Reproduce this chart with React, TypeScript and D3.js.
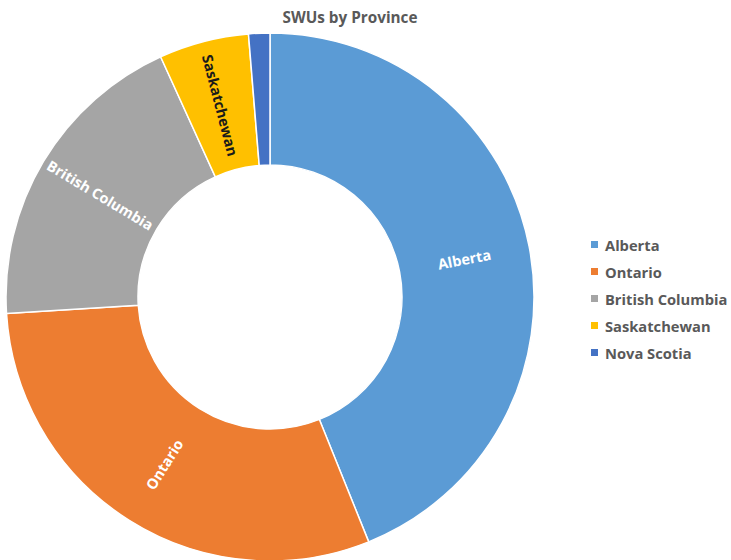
import React from "react";
import * as d3 from "d3";

const categories = ["Alberta", "Ontario", "British Columbia", "Saskatchewan", "Nova Scotia"];
const values = [43.9, 30.1, 19.2, 5.5, 1.3];
const colors = ["#5B9BD5", "#ED7D31", "#A5A5A5", "#FFC000", "#4472C4"];
const labelColors = ["#ffffff", "#ffffff", "#ffffff", "#1a1a1a", "#ffffff"];
const showLabel = [true, true, true, true, false];
const title = "SWUs by Province";

const W = 731;
const H = 560;
const FONT = "'Open Sans', Lato, sans-serif";

export default function App() {
  const cx = 270;
  const cy = 297;
  const outerR = 264;
  const innerR = 132;
  const data = categories.map((c, i) => ({ name: c, value: values[i], i }));
  const pie = d3.pie<any>().sort(null).value((d: any) => d.value).startAngle(0).endAngle(2 * Math.PI);
  const arcs = pie(data);
  const arc = d3.arc<any>().innerRadius(innerR).outerRadius(outerR);
  const midR = (innerR + outerR) / 2;

  return (
    <svg width={W} height={H} style={{ position: "absolute", left: 0, top: 0, background: "#fff" }} fontFamily={FONT}>
      <rect x={0} y={0} width={W} height={H} fill="#fff" />
      <text x={350} y={23} textAnchor="middle" fontSize={15.3} fontWeight="bold" fill="#595959">{title}</text>
      <g transform={`translate(${cx},${cy})`}>
        {arcs.map((a, k) => (
          <path key={k} d={arc(a) as string} fill={colors[k]} stroke="#fff" strokeWidth={1.5} />
        ))}
        {arcs.map((a, k) => {
          if (!showLabel[k]) return null;
          const mid = (a.startAngle + a.endAngle) / 2;
          const x = Math.sin(mid) * midR;
          const y = -Math.cos(mid) * midR;
          let rot = (mid * 180) / Math.PI - 90;
          if (rot > 90) rot -= 180;
          return (
            <text key={"l" + k} transform={`translate(${x},${y}) rotate(${rot})`} textAnchor="middle" dominantBaseline="central" fontSize={14.5} fontWeight="bold" fill={labelColors[k]}>
              {categories[k]}
            </text>
          );
        })}
      </g>
      <g>
        {categories.map((c, i) => (
          <g key={c} transform={`translate(591,${245 + i * 27})`}>
            <rect x={0} y={-4} width={7} height={7} fill={colors[i]} />
            <text x={14} y={0} dominantBaseline="central" fontSize={14.7} fontWeight="bold" fill="#595959">{c}</text>
          </g>
        ))}
      </g>
    </svg>
  );
}
